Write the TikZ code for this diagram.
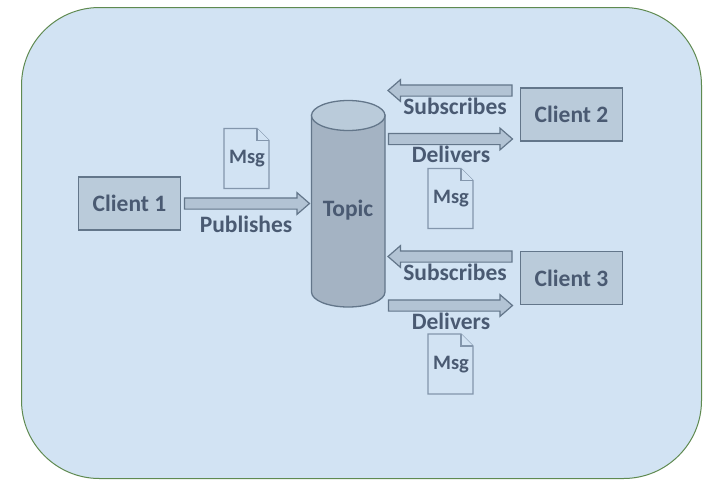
\documentclass[tikz,border=0pt]{standalone}
\usepackage{fontspec}
\setmainfont{Carlito}
\usetikzlibrary{shapes.arrows}
\definecolor{panel}{HTML}{D2E3F3}
\definecolor{panelline}{HTML}{5F8A50}
\definecolor{boxfill}{HTML}{BACBDA}
\definecolor{arrowfill}{HTML}{B2C3D4}
\definecolor{bodyfill}{HTML}{A4B3C3}
\definecolor{edge}{HTML}{63768A}
\definecolor{docedge}{HTML}{8396AC}
\definecolor{ink}{HTML}{4A5A72}
\tikzset{
  lbl/.style={text=ink,font=\fontsize{23.5}{26}\bfseries\selectfont,inner sep=0pt},
  msglbl/.style={text=ink,font=\fontsize{20.5}{24}\bfseries\selectfont,inner sep=0pt},
  clientbox/.style={draw=edge,fill=boxfill,line width=1.2pt,minimum width=102pt,minimum height=53pt,inner sep=0pt,text=ink,font=\fontsize{23.5}{26}\bfseries\selectfont},
  blockarrow/.style={single arrow,draw=edge,fill=arrowfill,line width=1.2pt,inner sep=5pt,outer sep=0pt,minimum width=20.5pt,single arrow head extend=5.2pt,single arrow tip angle=82,minimum height=#1,anchor=tip},
  doc/.style={draw=docedge,line width=1.2pt,fill=panel,line join=miter},
}
\newcommand{\msgdoc}[3]{%
  \draw[doc] (#2,#3+0.5) -- ++(33,0) -- ++(12,12) -- ++(0,48) -- ++(-45,0) -- cycle;
  \draw[doc] (#2+33,#3+0.5) -- ++(0,12) -- ++(12,0);
  \node[msglbl] (#1) at (#2+23,#3+31) {Msg};
}
\begin{document}
\begin{tikzpicture}[x=1pt,y=-1pt]
\useasboundingbox (0,0) rectangle (723,490);
\fill[white] (0,0) rectangle (723,490);
\draw[fill=panel,draw=panelline,line width=1pt,rounded corners=78pt] (21.5,7.5) rectangle (701.5,478.5);
% topic
\draw[draw=edge,line width=1.3pt,fill=bodyfill] (311.5,115) -- (311.5,292) arc[start angle=180,end angle=360,x radius=36.75pt,y radius=15pt] -- (385,115) -- cycle;
\draw[draw=edge,line width=1.3pt,fill=boxfill] (348.25,115.5) ellipse[x radius=36.75pt,y radius=15pt];
\node[lbl] (topic) at (348,210) {Topic};
% clients
\node[clientbox] (c1) at (129.5,203.5) {Client 1};
\node[clientbox] (c2) at (571.5,114.5) {Client 2};
\node[clientbox] (c3) at (571.5,278) {Client 3};
% arrows
\node[blockarrow=125pt] (a1) at (309.5,203.5) {};
\node[blockarrow=124pt,shape border rotate=180] (a2) at (388,90.5) {};
\node[blockarrow=124pt] (a3) at (512.5,139) {};
\node[blockarrow=124pt,shape border rotate=180] (a4) at (388,256.5) {};
\node[blockarrow=124pt] (a5) at (512.5,305.5) {};
% labels
\node[lbl] (l1) at (246,224.5) {Publishes};
\node[lbl] (l2) at (455,106.5) {Subscribes};
\node[lbl] (l3) at (451,154.5) {Delivers};
\node[lbl] (l4) at (455,272.5) {Subscribes};
\node[lbl] (l5) at (451,321.5) {Delivers};
% documents
\msgdoc{m1}{224}{128}
\msgdoc{m2}{428}{168}
\msgdoc{m3}{428}{333.5}
\end{tikzpicture}
\end{document}
